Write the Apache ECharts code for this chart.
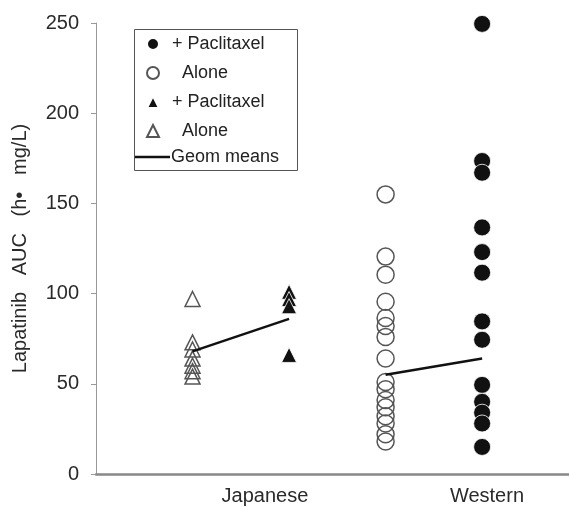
<!DOCTYPE html>
<html>
<head>
<meta charset="utf-8">
<script src="https://cdn.jsdelivr.net/npm/echarts@6/dist/echarts.min.js"></script>
<style>html,body{margin:0;padding:0;background:#fff;}#c{width:569px;height:507px;}</style>
</head>
<body>
<div id="c"></div>
<script>
// ---- data ----
const categoryLabels = ['Japanese', 'Western'];
const categoryLabelPos = [1.75, 4.05];
const groupPos = { jpAlone: 1, jpPac: 2, wAlone: 3, wPac: 4 };
const jpAlone = [97, 73, 69, 64, 60, 57, 54];
const jpPac = [101, 97, 93, 66];
const wAlone = [155, 120.5, 110.5, 95.5, 86.5, 82, 76, 64, 51, 47, 41, 37, 32, 28, 22, 18];
const wPac = [249.5, 173.5, 167, 136.7, 123, 111.6, 84.6, 74.4, 49.4, 40, 34, 28, 15];
const jpMeans = [68, 86];
const wMeans = [55, 64];
const yTicks = [0, 50, 100, 150, 200, 250];
const legendNames = {
  'Western + Paclitaxel': '+ Paclitaxel',
  'Western Alone': '  Alone',
  'Japanese + Paclitaxel': '+ Paclitaxel',
  'Japanese Alone': '  Alone',
  'Geom means': 'Geom means'
};

const FONT = 'Liberation Sans';
const pts = (x, arr) => arr.map(v => [x, v]);

const chart = echarts.init(document.getElementById('c'), null, { renderer: 'canvas' });
const openStyle = { color: 'transparent', borderColor: '#555', borderWidth: 1.5, opacity: 1 };
const fillStyle = { color: '#111', borderColor: '#fff', borderWidth: 0.8, opacity: 1 };

chart.setOption({
  animation: false,
  backgroundColor: '#fff',
  grid: { left: 96, right: 0, top: 23, bottom: 33, outerBoundsMode: 'none' },
  xAxis: {
    type: 'value', min: 0, max: 4.9,
    splitLine: { show: false },
    axisLine: { lineStyle: { color: '#888', width: 2.5 } },
    axisTick: { show: false },
    axisLabel: {
      customValues: categoryLabelPos,
      formatter: (v) => categoryLabels[categoryLabelPos.indexOf(v)] || '',
      fontFamily: FONT, fontSize: 20, color: '#2a2a2a', margin: 12
    }
  },
  yAxis: {
    type: 'value', min: 0, max: 250, interval: 50,
    name: 'Lapatinib   AUC   (h\u2022   mg/L)',
    nameLocation: 'middle', nameGap: 66,
    nameTextStyle: { fontFamily: FONT, fontSize: 20, color: '#2a2a2a' },
    splitLine: { show: false },
    axisLine: { show: true, lineStyle: { color: '#999', width: 1 } },
    axisTick: { show: true, length: 5, lineStyle: { color: '#999' } },
    axisLabel: {
      formatter: (v) => yTicks.includes(v) ? String(v) : '',
      fontFamily: FONT, fontSize: 20, color: '#2a2a2a', margin: 17
    }
  },
  legend: [{
    orient: 'vertical', left: 141, top: 30,
    itemWidth: 12, itemHeight: 12, itemGap: 11,
    data: ['Western + Paclitaxel', 'Western Alone', 'Japanese + Paclitaxel', 'Japanese Alone'],
    formatter: (n) => legendNames[n],
    textStyle: { fontFamily: FONT, fontSize: 18, color: '#222', padding: [0, 0, 0, 8] },
    selectedMode: false
  }, {
    orient: 'vertical', left: 130, top: 143,
    itemWidth: 35, itemHeight: 14,
    data: [{ name: 'Geom means', icon: 'path://M0,0H40V3H0Z', itemStyle: { color: '#111' } }],
    formatter: (n) => legendNames[n],
    textStyle: { fontFamily: FONT, fontSize: 18, color: '#222', padding: [0, 0, 0, -4] },
    selectedMode: false
  }],
  graphic: [{
    type: 'rect', left: 132, top: 27,
    shape: { width: 163, height: 141 },
    style: { fill: 'none', stroke: '#555', lineWidth: 1 }
  }],
  series: [
    { name: 'Western + Paclitaxel', type: 'scatter', symbol: 'circle', symbolSize: 17,
      itemStyle: fillStyle, data: pts(groupPos.wPac, wPac) },
    { name: 'Western Alone', type: 'scatter', symbol: 'circle', symbolSize: 17,
      itemStyle: openStyle, data: pts(groupPos.wAlone, wAlone) },
    { name: 'Japanese + Paclitaxel', type: 'scatter', symbol: 'triangle', symbolSize: 15,
      itemStyle: fillStyle, data: pts(groupPos.jpPac, jpPac) },
    { name: 'Japanese Alone', type: 'scatter', symbol: 'triangle', symbolSize: 15,
      itemStyle: openStyle, data: pts(groupPos.jpAlone, jpAlone) },
    { name: 'Geom means', type: 'line', symbol: 'none', z: 5,
      lineStyle: { color: '#111', width: 2.5 },
      data: [[groupPos.jpAlone, jpMeans[0]], [groupPos.jpPac, jpMeans[1]]] },
    { name: 'Geom means', type: 'line', symbol: 'none', z: 5,
      lineStyle: { color: '#111', width: 2.5 },
      data: [[groupPos.wAlone, wMeans[0]], [groupPos.wPac, wMeans[1]]] }
  ]
});
</script>
</body>
</html>
